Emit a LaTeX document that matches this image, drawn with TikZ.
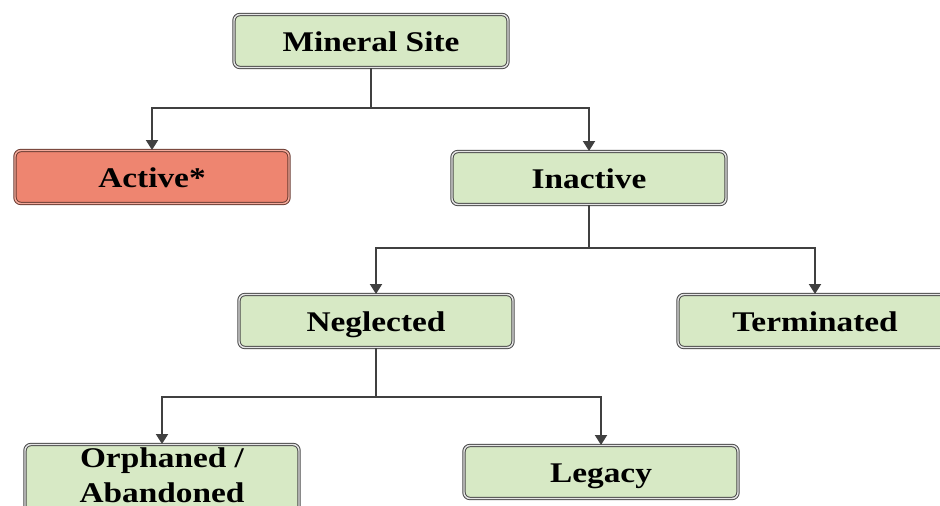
\documentclass[tikz,border=0pt]{standalone}
\usepackage{fontspec}
\setmainfont[FakeStretch=1.17]{Liberation Serif}
\usetikzlibrary{arrows.meta}
\definecolor{boxgreen}{HTML}{D7E9C5}
\definecolor{boxred}{HTML}{EE8570}
\definecolor{edgegray}{HTML}{4A4A4A}
\tikzset{
  box/.style={draw=edgegray, line width=1pt, double=white!80!gray, double distance=1.4pt,
    rounded corners=6pt, minimum width=274pt, minimum height=53pt, fill=boxgreen,
    font=\fontsize{28.5}{35}\selectfont\bfseries, inner sep=0pt, align=center,
    text height=20pt, text depth=0pt},
  redbox/.style={box, fill=boxred, draw=boxred!45!black, double=boxred!70!white},
  conn/.style={draw=black!75, line width=2pt, -{Triangle[width=12pt,length=10pt]}},
  line/.style={draw=black!75, line width=2pt}
}
\begin{document}
\begin{tikzpicture}[x=1pt,y=-1pt]
\path[use as bounding box] (0,0) rectangle (940,506);
\clip (0,0) rectangle (940,506);
\node[box] (ms) at (371,41) {Mineral Site};
\node[redbox] (act) at (152,177) {Active*};
\node[box] (inact) at (589,178) {Inactive};
\node[box] (neg) at (376,321) {Neglected};
\node[box] (term) at (815,321) {Terminated};
\node[box, anchor=north, minimum height=72pt, text height=55pt, text depth=12pt] (orph) at (162,444) {Orphaned /\\Abandoned};
\node[box] (leg) at (601,472) {Legacy};
\coordinate (j1) at (371,108);
\coordinate (j2) at (589,248);
\coordinate (j3) at (376,397);
\draw[line] (ms.south) -- (j1);
\draw[conn] (j1) -| (act.north);
\draw[conn] (j1) -| (inact.north);
\draw[line] (inact.south) -- (j2);
\draw[conn] (j2) -| (neg.north);
\draw[conn] (j2) -| (term.north);
\draw[line] (neg.south) -- (j3);
\draw[conn] (j3) -| (orph.north);
\draw[conn] (j3) -| (leg.north);
\end{tikzpicture}
\end{document}
